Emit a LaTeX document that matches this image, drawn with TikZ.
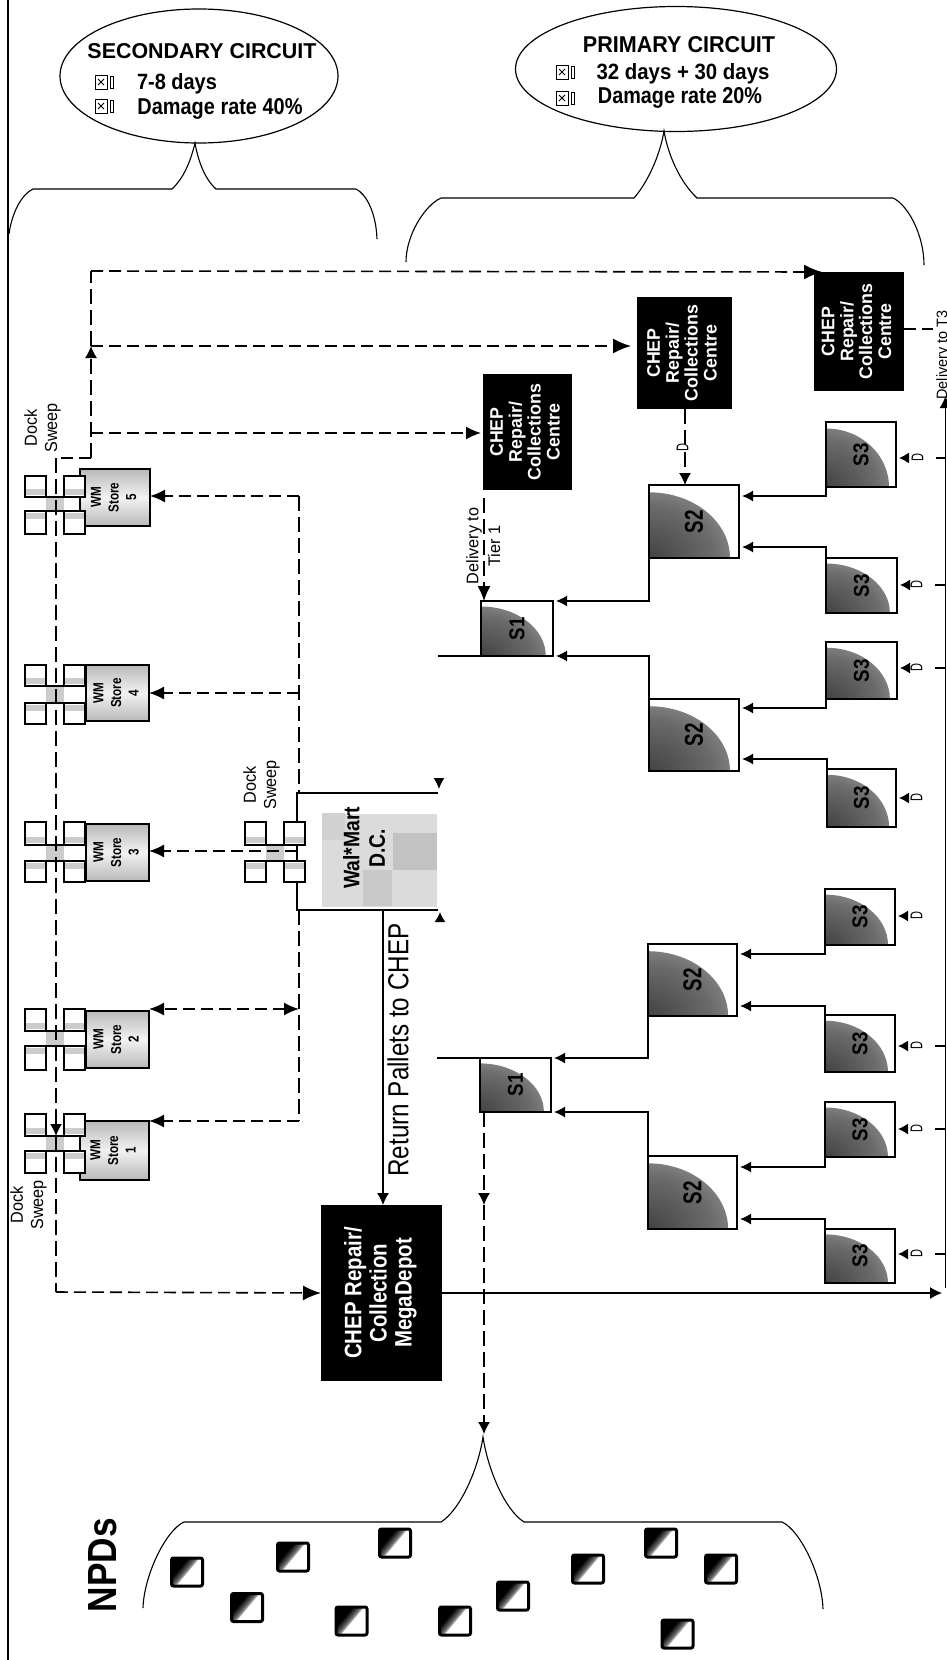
\documentclass[tikz,border=0pt]{standalone}
\usepackage{fontspec}
\usepackage{graphicx}
\setmainfont{Liberation Sans}
\usetikzlibrary{arrows.meta,shapes.geometric,calc}
\pgfdeclareradialshading{cornerfade}{\pgfpoint{0bp}{0bp}}{color(0bp)=(black!74);color(20bp)=(black!58);color(35bp)=(black!36);color(49.5bp)=(black!7);color(50bp)=(white);color(100bp)=(white)}
\pgfdeclarehorizontalshading{npdfade}{100bp}{color(0bp)=(black);color(36bp)=(black);color(46bp)=(black!60);color(49.6bp)=(black!30);color(50bp)=(white);color(100bp)=(white)}
\tikzset{
  solidln/.style={line width=1.4pt,black},
  thinln/.style={line width=1.1pt,black},
  dashln/.style={line width=1.6pt,black,dash pattern=on 12pt off 6pt},
  dashv/.style={line width=1.2pt,black,dash pattern=on 15pt off 6pt},
  tipS/.style={-{Latex[length=11pt,width=11pt]},shorten >=3pt},
  tipV/.style={-{Latex[length=12pt,width=12pt]}},
  tipD/.style={-{Latex[length=15pt,width=13pt]}},
  tipB/.style={-{Latex[length=18pt,width=15pt]}},
  sboxn/.style={draw=black,line width=1.4pt,inner sep=0pt,outer sep=0pt},
  storen/.style={draw=black,line width=1.4pt,inner sep=0pt,outer sep=0pt,top color=gray!55,bottom color=gray!55,middle color=gray!10},
  blackn/.style={fill=black,text=white,inner sep=0pt,outer sep=0pt,font=\bfseries},
  npdn/.style={draw=black,line width=3pt,rounded corners=2pt,minimum width=31pt,minimum height=28pt,inner sep=0pt,shade,shading=npdfade,shading angle=-40},
  ell/.style={draw=black,ellipse,line width=1.2pt,inner sep=0pt,outer sep=0pt},
  txt/.style={inner sep=0pt,outer sep=0pt},
}
% size, baseline, along-scale, across-scale, lines
\newcommand{\RotTxt}[5]{\rotatebox{90}{\scalebox{#3}[#4]{\fontsize{#1}{#2}\selectfont\begin{tabular}{@{}c@{}}#5\end{tabular}}}}
\newcommand{\SBx}[7]{% name x1 y1 x2 y2 label acrossheight
  \begin{scope}
    \clip (#2,#3) rectangle (#4,#5);
    \shade[shading=cornerfade] (#2,#5) ellipse ({(#4-#2)*.9} and {(#5-#3)*.9});
  \end{scope}
  \node[sboxn,minimum width={(#4-#2)*1pt},minimum height={(#5-#3)*1pt}] (#1) at ({(#2+#4)/2},{(#3+#5)/2}) {\rotatebox{90}{\resizebox{23pt}{#7}{\bfseries #6}}};}
\newcommand{\StoreBx}[6]{%
  \node[storen,minimum width={(#4-#2)*1pt},minimum height={(#5-#3)*1pt}] (#1) at ({(#2+#4)/2},{(#3+#5)/2}) {\bfseries\RotTxt{9}{11}{1.3}{1.6}{WM\\Store\\#6}};}
\newcommand{\DockX}[5]{% xbase y1 y2 y3 y4
  \fill[gray!40] (#1+21,#3) rectangle (#1+39,#4);
  \draw[thinln,fill=white] (#1,#2) rectangle (#1+21,#3);
  \draw[thinln,fill=white] (#1+39,#2) rectangle (#1+60,#3);
  \draw[thinln,fill=white] (#1,#4) rectangle (#1+21,#5);
  \draw[thinln,fill=white] (#1+39,#4) rectangle (#1+60,#5);
  \fill[gray!40] (#1+1,#3-8) rectangle (#1+20,#3-2);
  \fill[gray!40] (#1+40,#3-8) rectangle (#1+59,#3-2);
  \fill[gray!40] (#1+1,#4+2) rectangle (#1+20,#4+8);
  \fill[gray!40] (#1+40,#4+2) rectangle (#1+59,#4+8);
  \draw[solidln] (#1,#3) -- (#1+60,#3);
  \draw[solidln] (#1,#4) -- (#1+60,#4);}
\newcommand{\DLab}[3]{\node[txt] (#1) at (#2,#3) {\RotTxt{10}{10}{1.1}{1.7}{D}};}
\newcommand{\BlackBx}[5]{\node[blackn,minimum width={(#4-#2)*1pt},minimum height={(#5-#3)*1pt}] (#1) at ({(#2+#4)/2},{(#3+#5)/2}) {\RotTxt{13}{13.5}{1.37}{1.4}{CHEP\\Repair/\\Collections\\Centre}};}
\newcommand{\Bullet}[2]{%
  \draw[line width=1pt] (#1-9,#2-7) rectangle (#1+3,#2+7);
  \draw[line width=.8pt] (#1-6,#2-3) -- (#1,#2+3) (#1-6,#2+3) -- (#1,#2-3);
  \draw[line width=1pt] (#1+6,#2-6) rectangle (#1+9,#2+6);}
\begin{document}
\begin{tikzpicture}[x=1pt,y=-1pt]
\useasboundingbox (0,0) rectangle (947,1660);
\fill[white] (0,0) rectangle (947,1660);
\coordinate (leftT) at (8,0); \coordinate (leftB) at (8,1660);
\draw[thinln] (leftT) -- (leftB);

% circuit ellipses
\node[ell,minimum width=278pt,minimum height=134pt] (sece) at (199,76) {};
\node[ell,minimum width=321pt,minimum height=125pt] (prie) at (676,69) {};
\node[txt,anchor=base] (sect) at (202,58) {\resizebox{229pt}{15pt}{\bfseries SECONDARY CIRCUIT}};
\node[txt,anchor=base] (sec1) at (177,89) {\resizebox{80pt}{16pt}{\bfseries 7-8 days}};
\node[txt,anchor=base] (sec2) at (220,114) {\resizebox{165pt}{16pt}{\bfseries Damage rate 40\%}};
\node[txt,anchor=base] (prit) at (679,52) {\resizebox{192pt}{16pt}{\bfseries PRIMARY CIRCUIT}};
\node[txt,anchor=base] (pri1) at (683,79) {\resizebox{173pt}{16pt}{\bfseries 32 days + 30 days}};
\node[txt,anchor=base] (pri2) at (680,103) {\resizebox{164pt}{16pt}{\bfseries Damage rate 20\%}};
\Bullet{104}{82}\Bullet{104}{106}\Bullet{565}{72}\Bullet{565}{98}

% braces
\coordinate (seca) at (195,143);
\coordinate (pria) at (664,131);
\coordinate (npda) at (483,1437);
\draw[thinln] (9,234) .. controls (12,212) and (22,194) .. (33,189) -- (172,189) .. controls (184,178) and (191,160) .. (seca) .. controls (198,160) and (204,178) .. (216,189) -- (356,189) .. controls (366,194) and (376,212) .. (377,239);
\draw[thinln] (406,262) .. controls (406,235) and (425,205) .. (441,198) -- (634,198) .. controls (648,182) and (660,155) .. (pria) .. controls (668,155) and (680,182) .. (697,198) -- (893,198) .. controls (908,205) and (924,235) .. (924,265);
\draw[thinln] (143,1608) .. controls (144,1575) and (166,1530) .. (184,1522) -- (441,1522) .. controls (460,1510) and (478,1470) .. (npda) .. controls (488,1470) and (505,1510) .. (524,1522) -- (782,1522) .. controls (800,1530) and (822,1575) .. (823,1609);

% CHEP boxes
\BlackBx{box1}{483}{374}{572}{490}
\BlackBx{box2}{637}{297}{732}{409}
\BlackBx{box3}{814}{272}{904}{391}
\node[blackn,minimum width=121pt,minimum height=176pt] (mega) at (381.5,1293) {\RotTxt{17}{18}{1.2}{1.4}{CHEP Repair/\\Collection\\MegaDepot}};

% tier boxes
\SBx{s2a}{649}{485}{739}{558}{S2}{18pt}
\SBx{s2b}{649}{699}{739}{771}{S2}{18pt}
\SBx{s2c}{648}{944}{737}{1016}{S2}{18pt}
\SBx{s2d}{648}{1156}{737}{1229}{S2}{18pt}
\SBx{s1a}{481}{601}{553}{656}{S1}{15pt}
\SBx{s1b}{480}{1058}{551}{1112}{S1}{15pt}
\SBx{r1}{826}{422}{896}{487}{S3}{15pt}
\SBx{r2}{826}{558}{897}{613}{S3}{15pt}
\SBx{r3}{826}{642}{897}{699}{S3}{15pt}
\SBx{r4}{827}{769}{896}{827}{S3}{15pt}
\SBx{r5}{825}{889}{895}{945}{S3}{15pt}
\SBx{r6}{825}{1015}{895}{1072}{S3}{15pt}
\SBx{r7}{825}{1102}{895}{1157}{S3}{15pt}
\SBx{r8}{825}{1229}{895}{1283}{S3}{15pt}

% tier connectors
\draw[solidln,tipS] (r1.south west) |- (s2a.east |- 0,496);
\draw[solidln,tipS] (r2.north west) |- (s2a.east |- 0,547);
\draw[solidln,tipS] (r3.south west) |- (s2b.east |- 0,708);
\draw[solidln,tipS] (r4.north west) |- (s2b.east |- 0,759);
\draw[solidln,tipS] (r5.south west) |- (s2c.east |- 0,954);
\draw[solidln,tipS] (r6.north west) |- (s2c.east |- 0,1006);
\draw[solidln,tipS] (r7.south west) |- (s2d.east |- 0,1167);
\draw[solidln,tipS] (r8.north west) |- (s2d.east |- 0,1219);
\draw[solidln,tipS] (s2a.south west) |- (s1a.north east);
\draw[solidln,tipS] (s2b.north west) |- (s1a.south east);
\draw[solidln,tipS] (s2c.south west) |- (s1b.north east);
\draw[solidln,tipS] (s2d.north west) |- (s1b.south east);
\coordinate (ext1) at (438,656);
\coordinate (ext2) at (437,1058);
\draw[solidln] (s1a.south west) -- (ext1);
\draw[solidln] (s1b.north west) -- (ext2);

% D labels, rail
\coordinate (railT) at (945.5,396);
\coordinate (railB) at (945.5,1288);
\draw[thinln,tipV] (railB) -- (railT);
\DLab{d1}{920}{458}\DLab{d2}{919}{585}\DLab{d3}{919}{668}\DLab{d4}{919}{798}
\DLab{d5}{919}{916}\DLab{d6}{919}{1046}\DLab{d7}{919}{1129}\DLab{d8}{919}{1254}
\foreach \n/\r in {d1/r1,d2/r2,d3/r3,d4/r4,d5/r5,d6/r6,d7/r7,d8/r8}{
  \draw[solidln,-{Latex[length=10pt,width=11pt]},shorten >=3pt,shorten <=4pt] (\n.west) -- (\r.east |- \n.west);}
\foreach \n in {d1,d2,d3,d6,d7,d8}{
  \draw[solidln,shorten <=7pt] (\n.east) -- (\n.east -| railT);}
\coordinate (t3stub) at (933,329);
\draw[dashln] (box3.east |- t3stub) -- (t3stub);
\node[txt,anchor=base,rotate=90] (t3t) at (947,355) {\scalebox{1.2}[1.25]{\fontsize{12}{12}\selectfont Delivery to T3}};

% box 2 down to S2
\DLab{d0}{685}{448}
\draw[dashv] (d0 |- box2.south) -- (d0.north);
\draw[dashv,tipV] (d0.south) -- (d0 |- s2a.north);

% Delivery to Tier 1
\coordinate (deliv) at (484,498);
\draw[dashv,tipD] (deliv) -- (deliv |- s1a.north);
\node[txt] (dtt) at (485,546) {\RotTxt{12}{15.5}{1.35}{1.4}{Delivery to\\Tier 1}};

% Wal-Mart DC
\node[fill=gray!28,inner sep=0pt,outer sep=0pt,minimum width=115pt,minimum height=93pt] (wm) at (379.5,860) {};
\fill[gray!48] (393,833) rectangle (437,870);
\fill[gray!42] (363,870) rectangle (392,906);
\fill[gray!36] (322,813) rectangle (345,840);
\node[txt,font=\bfseries] (wmt) at (367,848) {\RotTxt{14}{16}{1.38}{1.6}{Wal*Mart\\D.C.}};
\coordinate (wmTL) at (297,793); \coordinate (wmTR) at (438,793);
\coordinate (wmBL) at (297,910); \coordinate (wmBR) at (438,910);
\draw[solidln] (wmTR) -- (wmTL) -- (wmBL) -- (wmBR);
\coordinate (h1a) at (439,778); \coordinate (h1b) at (439,789);
\coordinate (h2a) at (440,922); \coordinate (h2b) at (440,912);
\draw[solidln,-{Latex[length=11pt,width=11pt]}] (h1a) -- (h1b);
\draw[solidln,-{Latex[length=10pt,width=11pt]}] (h2a) -- (h2b);

% Return
\coordinate (ret) at (383,910);
\draw[thinln,tipV] (ret) -- (ret |- mega.north);
\node[txt,rotate=90] (rett) at (398,1050) {\resizebox{253pt}{21pt}{Return Pallets to CHEP}};
\draw[thinln,-{Latex[length=12pt,width=12pt]}] (mega.east) -- (942,1293) coordinate (megaOut);

% stores and dock crosses
\StoreBx{st5}{80}{469}{150}{526}{5}
\StoreBx{st4}{86}{665}{149}{721}{4}
\StoreBx{st3}{86}{824}{149}{881}{3}
\StoreBx{st2}{86}{1011}{149}{1068}{2}
\StoreBx{st1}{80}{1121}{149}{1180}{1}
\DockX{25}{476}{497}{511}{534}
\DockX{25}{665}{686}{703}{724}
\DockX{25}{822}{845}{861}{882}
\DockX{25}{1009}{1031}{1046}{1070}
\DockX{25}{1114}{1136}{1151}{1173}
\DockX{245}{822}{845}{861}{882}

\node[txt] (ds1) at (43,428) {\RotTxt{12}{14}{1.35}{1.45}{Dock\\Sweep}};
\node[txt] (ds2) at (262,785) {\RotTxt{12}{14}{1.35}{1.45}{Dock\\Sweep}};
\node[txt] (ds3) at (29,1205) {\RotTxt{12}{14}{1.35}{1.45}{Dock\\Sweep}};

% dashed store bus
\coordinate (busT) at (299,496);
\coordinate (busB) at (299,1121);
\draw[dashln,tipD] (busT) -- (st5.east |- busT);
\draw[dashv] (busT) -- (299,793);
\draw[dashv] (299,910) -- (busB);
\draw[dashln,tipD] (busB) -- (st1.east |- busB);
\coordinate (b4) at (299,693); \coordinate (b3) at (297,851); \coordinate (b2) at (299,1009);
\draw[dashln,tipD] (b4) -- (st4.east |- b4);
\draw[dashln,tipD] (b3) -- (st3.east |- b3);
\draw[dashln,{Latex[length=15pt,width=13pt]}-{Latex[length=15pt,width=13pt]}] (b2) -- (st2.east |- b2);

% dashed dock sweep
\coordinate (c1) at (91,271);
\coordinate (c2) at (91,458);
\coordinate (c3) at (56,458);
\coordinate (c4) at (56,1292);
\coordinate (c5) at (91,346);
\coordinate (c6) at (91,433);
\coordinate (c7) at (56,1136);
\draw[dashln,tipB] (c1) -- ($(box3.north west)+(8,0)$);
\draw[dashln,tipB] (c5) -- ($(box2.west |- c5)+(-6,0)$);
\draw[dashln,tipD] (c6) -- ($(box1.west |- c6)+(-2,0)$);
\draw[dashv] (c5) -- (c1);
\draw[dashv,tipV,shorten >=-2pt] (c2) -- ($(c5)+(0,2)$);
\draw[dashln] (c2) -- (c3);
\draw[dashv,tipV] (c3) -- (c7);
\draw[dashv] (c7) -- (c4);
\draw[dashln,tipB] (c4) -- (mega.west);

% dashed down to NPDs
\coordinate (sd) at (484,1112);
\coordinate (sm) at (484,1205);
\coordinate (se) at (484,1434);
\draw[dashv,tipV] (sd) -- (sm);
\draw[dashv,tipV] (sm) -- (se);

% NPDs
\node[txt,rotate=90] (npdt) at (117,1565) [anchor=south] {\resizebox{94pt}{28pt}{\bfseries NPDs}};
\foreach \i/\x/\y in {1/187/1572,2/247/1607.5,3/293/1557,4/351.5/1621,5/395/1543,6/455/1621,7/513/1596,8/588/1569,9/661/1543,10/677.5/1634,11/721/1569}{
  \node[npdn] (n\i) at (\x,\y) {};}
\end{tikzpicture}
\end{document}
